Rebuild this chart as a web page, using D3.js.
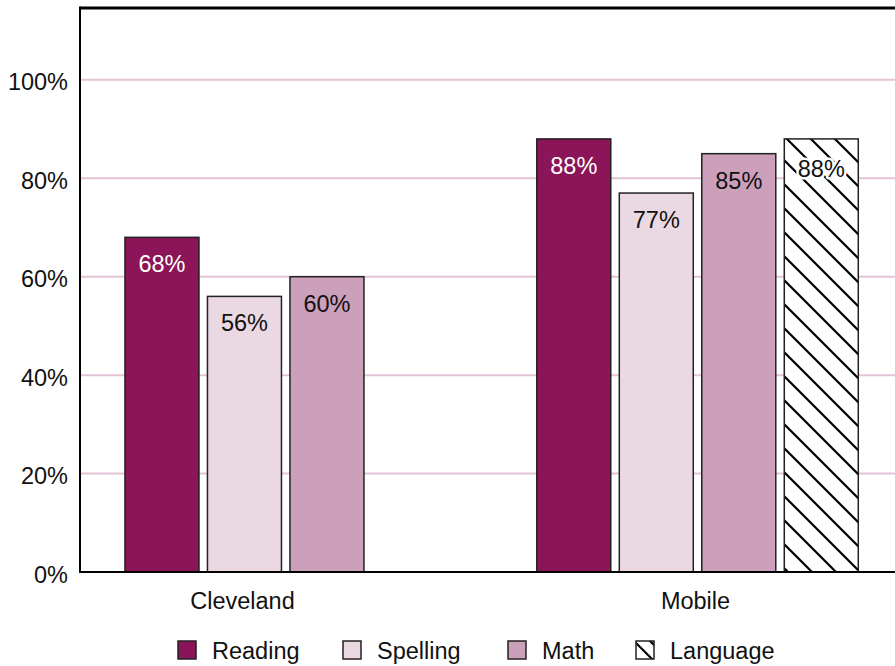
<!DOCTYPE html>
<html>
<head>
<meta charset="utf-8">
<script src="https://cdn.jsdelivr.net/npm/d3@7/dist/d3.min.js"></script>
<style>
  html, body { margin: 0; padding: 0; background: #fff; }
  svg { display: block; font-family: "Liberation Sans", Arial, sans-serif; }
</style>
</head>
<body>
<svg id="chart" width="895" height="666"></svg>
<script>
const categories = ["Cleveland", "Mobile"];
const seriesNames = ["Reading", "Spelling", "Math", "Language"];
const readingValues = [68, 88];
const spellingValues = [56, 77];
const mathValues = [60, 85];
const languageValues = [null, 88];
const yTicks = [0, 20, 40, 60, 80, 100];

(function () {
const seriesValues = [readingValues, spellingValues, mathValues, languageValues];
const colors = { Reading: "#8b1558", Spelling: "#ead8e2", Math: "#cc9fba", Language: "url(#hatch)" };
const labelColors = { Reading: "#ffffff", Spelling: "#111", Math: "#111", Language: "#111" };
const fs = 23.5;

const svg = d3.select("#chart");
const mLeft = 80, mTop = 8, mBottom = 572, mRight = 895;

const defs = svg.append("defs");
const pat = defs.append("pattern").attr("id", "hatch")
  .attr("patternUnits", "userSpaceOnUse").attr("width", 24).attr("height", 24);
pat.append("rect").attr("width", 24).attr("height", 24).attr("fill", "#fff");
pat.append("path").attr("d", "M-2,-2 L26,26 M-14,10 L2,26 M10,-14 L26,2")
  .attr("stroke", "#000").attr("stroke-width", 2.2);
const patL = defs.append("pattern").attr("id", "hatchL")
  .attr("patternUnits", "userSpaceOnUse").attr("x", 636).attr("y", 641).attr("width", 24).attr("height", 24);
patL.append("rect").attr("width", 24).attr("height", 24).attr("fill", "#fff");
patL.append("path").attr("d", "M-2,0 L22,24 M12,-2 L26,12").attr("stroke", "#000").attr("stroke-width", 2.2);

const y = d3.scaleLinear().domain([0, 114.6]).range([mBottom, mTop]);
const x = d3.scalePoint().domain(categories).range([mLeft, 862]).padding(0.363);

// gridlines
svg.append("g").selectAll("line").data(yTicks.filter(d => d > 0)).join("line")
  .attr("x1", mLeft).attr("x2", mRight)
  .attr("y1", d => y(d)).attr("y2", d => y(d))
  .attr("stroke", "#e3c3d6").attr("stroke-width", 2);

// bars
const barStep = 82.5, barW = 74;
categories.forEach((cat, ci) => {
  const present = seriesNames.filter((s, si) => seriesValues[si][ci] != null);
  const inner = d3.scaleBand().domain(present)
    .range([x(cat) - present.length * barStep / 2, x(cat) + present.length * barStep / 2])
    .paddingInner((barStep - barW) / barStep).paddingOuter((barStep - barW) / barStep / 2);
  const data = present.map(s => ({ s, v: seriesValues[seriesNames.indexOf(s)][ci] }));
  const g = svg.append("g");
  g.selectAll("rect").data(data).join("rect")
    .attr("x", d => inner(d.s)).attr("width", inner.bandwidth())
    .attr("y", d => y(d.v)).attr("height", d => y(0) - y(d.v))
    .attr("fill", d => colors[d.s]).attr("stroke", "#222").attr("stroke-width", 1.5);
  g.selectAll("text").data(data).join("text")
    .attr("x", d => inner(d.s) + inner.bandwidth() / 2)
    .attr("y", d => y(d.v) + (d.s === "Language" ? 38 : 35))
    .attr("text-anchor", "middle").attr("font-size", fs)
    .attr("fill", d => labelColors[d.s])
    .attr("stroke", d => d.s === "Language" ? "#fff" : "none")
    .attr("stroke-width", 5).attr("paint-order", "stroke").attr("stroke-linejoin", "round")
    .text(d => d.v + "%");
});

// axes frame
svg.append("line").attr("x1", mLeft).attr("x2", mRight).attr("y1", mTop).attr("y2", mTop)
  .attr("stroke", "#000").attr("stroke-width", 3);
svg.append("line").attr("x1", mLeft).attr("x2", mLeft).attr("y1", mTop - 1.5).attr("y2", mBottom + 1)
  .attr("stroke", "#000").attr("stroke-width", 2);
svg.append("line").attr("x1", mLeft).attr("x2", mRight).attr("y1", mBottom).attr("y2", mBottom)
  .attr("stroke", "#000").attr("stroke-width", 2);

// y tick labels
svg.append("g").selectAll("text").data(yTicks).join("text")
  .attr("x", 68).attr("y", d => y(d) + 10.5)
  .attr("text-anchor", "end").attr("font-size", fs).attr("fill", "#111")
  .text(d => d + "%");

// category labels
svg.append("g").selectAll("text").data(categories).join("text")
  .attr("x", d => x(d) - 2).attr("y", 609)
  .attr("text-anchor", "middle").attr("font-size", fs).attr("fill", "#111")
  .text(d => d);

// legend
const legendX = [178, 343, 508, 636];
const lg = svg.append("g");
seriesNames.forEach((s, i) => {
  lg.append("rect").attr("x", legendX[i]).attr("y", 641).attr("width", 18).attr("height", 18)
    .attr("fill", s === "Language" ? "url(#hatchL)" : colors[s]).attr("stroke", "#222").attr("stroke-width", 1.5);
  lg.append("text").attr("x", legendX[i] + 34).attr("y", 659)
    .attr("font-size", fs).attr("fill", "#111").text(s);
});
})();
</script>
</body>
</html>
